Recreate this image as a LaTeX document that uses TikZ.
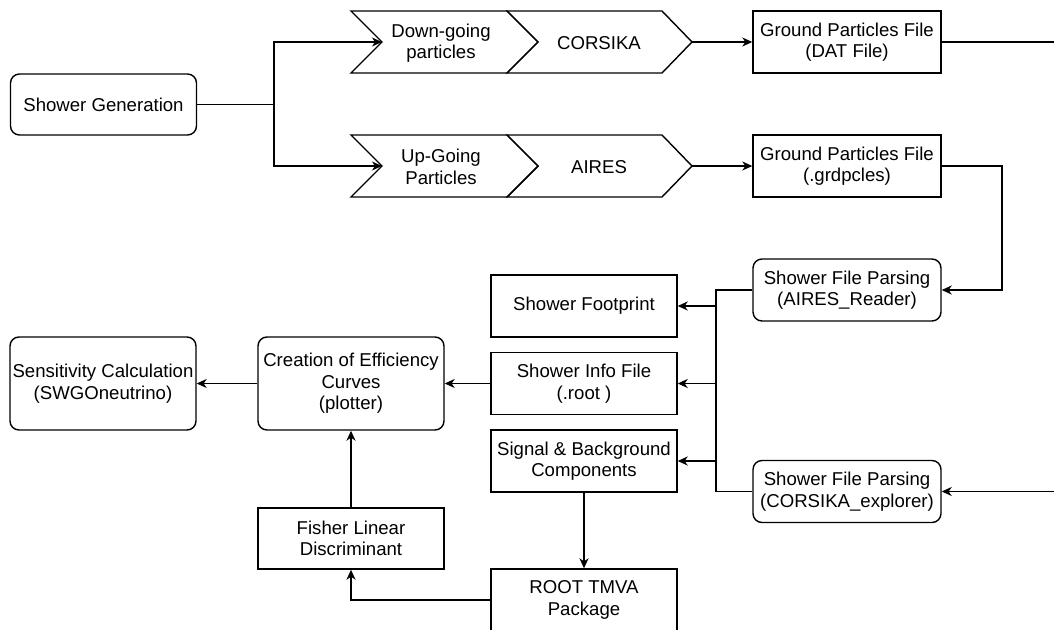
\documentclass[tikz,border=0pt]{standalone}
\usepackage{fontspec}
\setmainfont{Liberation Sans}
\usetikzlibrary{arrows.meta}
\begin{document}
\begin{tikzpicture}[x=1pt,y=-1pt, line width=1.4pt,
  txt/.style={align=center, font=\fontsize{18.6}{21.5}\selectfont, inner sep=0pt},
  box/.style={txt, draw, minimum width=188pt, minimum height=62pt},
  rbox/.style={box, rounded corners=9pt},
  chev/.style={draw, line join=miter},
  arr/.style={-{Stealth[length=10pt,width=9pt,inset=3pt]}}
]
\clip (0,0) rectangle (1054,629);
% chevrons
\draw[chev] (351,11) -- (507,11) -- (538,42) -- (507,73) -- (351,73) -- (382,42) -- cycle;
\draw[chev] (507,11) -- (662,11) -- (692,42) -- (662,73) -- (507,73) -- (538,42) -- cycle;
\draw[chev] (351,135) -- (507,135) -- (538,166) -- (507,197) -- (351,197) -- (382,166) -- cycle;
\draw[chev] (507,135) -- (662,135) -- (692,166) -- (662,197) -- (507,197) -- (538,166) -- cycle;
\node[txt] (down) at (441,43) {Down-going\\particles};
\node[txt] (corsika) at (599,43) {CORSIKA};
\node[txt] (up) at (441,167) {Up-Going\\Particles};
\node[txt] (aires) at (599,167) {AIRES};
\coordinate (n1) at (382,42);
\coordinate (n2) at (382,166);
\coordinate (t1) at (692,42);
\coordinate (t2) at (692,166);
% boxes
\node[rbox, minimum width=186pt, minimum height=61pt] (gen) at (103.5,104.5) {Shower Generation};
\node[box] (dat) at (847,42) {Ground Particles File\\(DAT File)};
\node[box] (grd) at (847,166) {Ground Particles File\\(.grdpcles)};
\node[rbox] (ar) at (847,290) {Shower File Parsing\\(AIRES\_Reader)};
\node[rbox] (ce) at (847,491.5) {Shower File Parsing\\(CORSIKA\_explorer)};
\node[box, minimum width=186pt] (foot) at (584,306) {Shower Footprint};
\node[box, minimum width=186pt] (info) at (584,383.5) {Shower Info File\\(.root )};
\node[box, minimum width=186pt] (sig) at (584,461) {Signal \& Background\\Components};
\node[box, minimum width=186pt] (tmva) at (584,600) {ROOT TMVA\\Package};
\node[rbox, minimum width=186pt, minimum height=93pt] (curves) at (351,383.5) {Creation of Efficiency\\Curves\\(plotter)};
\node[rbox, minimum width=186pt, minimum height=93pt] (sens) at (103,383.5) {Sensitivity Calculation\\(SWGOneutrino)};
\node[box, minimum width=186pt, minimum height=61pt] (fisher) at (351,538.5) {Fisher Linear\\Discriminant};
% coordinates
\coordinate (split) at (274,104.5);
\coordinate (turnA) at (1002,228);
\coordinate (outA) at (1054,42);
\coordinate (inB) at (1054,491.5);
\coordinate (bus) at (716,0);
% connectors
\draw (gen.east) -- (split);
\draw[arr] (split) |- (n1);
\draw[arr] (split) |- (n2);
\draw[arr] (t1) -- (dat.west);
\draw[arr] (t2) -- (grd.west);
\draw (dat.east) -- (outA);
\draw[arr] (grd.east) -| (turnA) |- (ar.east);
\draw[arr] (inB) -- (ce.east);
\draw (ar.west) -- (ar.west -| bus) -- (ce.west -| bus) -- (ce.west);
\draw[arr] (foot.east -| bus) -- (foot.east);
\draw[arr] (info.east -| bus) -- (info.east);
\draw[arr] (sig.east -| bus) -- (sig.east);
\draw[arr] (info.west) -- (curves.east);
\draw[arr] (curves.west) -- (sens.east);
\draw[arr] (sig.south) -- (tmva.north);
\draw[arr] (tmva.west) -| (fisher.south);
\draw[arr] (fisher.north) -- (curves.south);
\end{tikzpicture}
\end{document}
